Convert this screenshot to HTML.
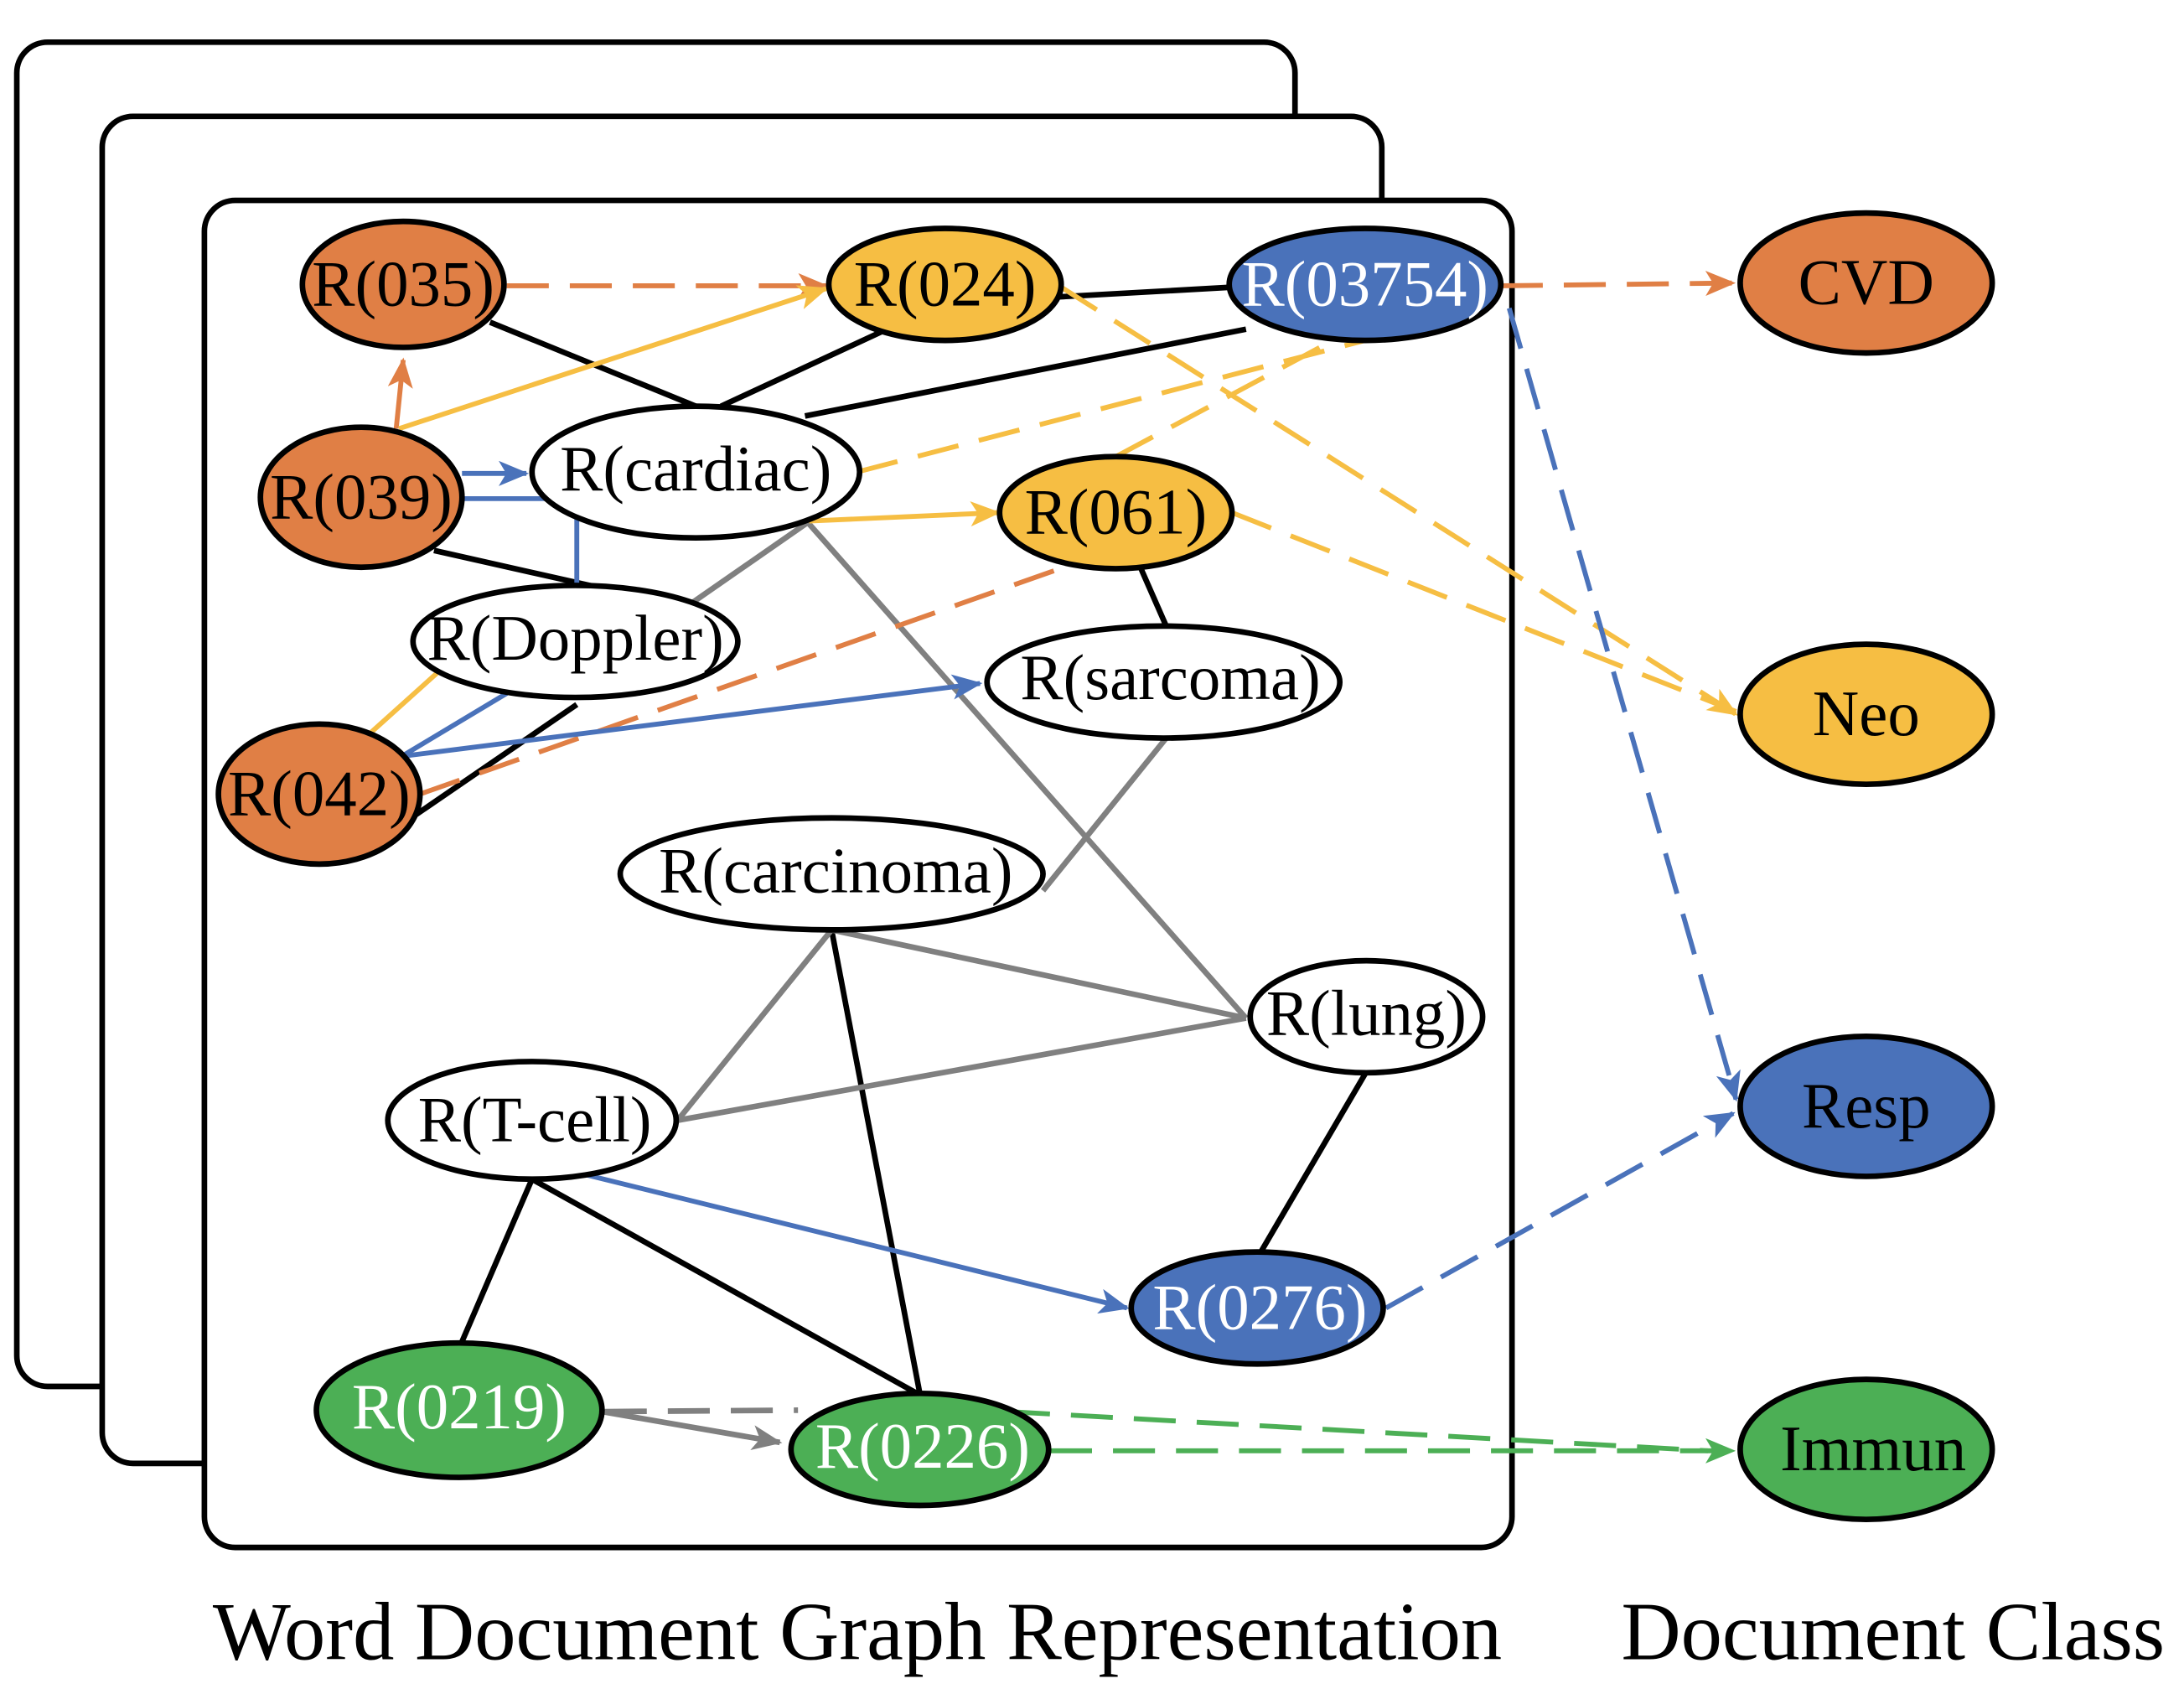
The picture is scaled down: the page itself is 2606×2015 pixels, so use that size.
<!DOCTYPE html>
<html><head><meta charset="utf-8"><style>html,body{margin:0;padding:0;background:#fff}svg{display:block}</style></head>
<body>
<svg width="2606" height="2015" viewBox="0 0 1560 1206" xmlns="http://www.w3.org/2000/svg" font-family="Liberation Serif, serif">
<defs>
<marker id="ao" viewBox="0 0 12 10" refX="11" refY="5" markerWidth="24" markerHeight="18" markerUnits="userSpaceOnUse" orient="auto"><path d="M0,0 L12,5 L0,10 L3,5z" fill="#E07F45"/></marker>
<marker id="ay" viewBox="0 0 12 10" refX="11" refY="5" markerWidth="24" markerHeight="18" markerUnits="userSpaceOnUse" orient="auto"><path d="M0,0 L12,5 L0,10 L3,5z" fill="#F6BE43"/></marker>
<marker id="ab" viewBox="0 0 12 10" refX="11" refY="5" markerWidth="24" markerHeight="18" markerUnits="userSpaceOnUse" orient="auto"><path d="M0,0 L12,5 L0,10 L3,5z" fill="#4A72BA"/></marker>
<marker id="ag" viewBox="0 0 12 10" refX="11" refY="5" markerWidth="24" markerHeight="18" markerUnits="userSpaceOnUse" orient="auto"><path d="M0,0 L12,5 L0,10 L3,5z" fill="#4CAF55"/></marker>
<marker id="agr" viewBox="0 0 12 10" refX="11" refY="5" markerWidth="24" markerHeight="18" markerUnits="userSpaceOnUse" orient="auto"><path d="M0,0 L12,5 L0,10 L3,5z" fill="#808080"/></marker>
</defs>
<g fill="#fff" stroke="#000" stroke-width="4">
<rect x="12" y="30" width="913" height="960" rx="22"/>
<rect x="73" y="83" width="914" height="962" rx="22"/>
<rect x="146" y="143" width="934" height="962" rx="22"/>
</g>
<g stroke="#000" stroke-width="4" fill="none">
<line x1="350" y1="230" x2="497" y2="290"/>
<line x1="515" y1="290" x2="640" y2="232"/>
<line x1="755" y1="212" x2="880" y2="205"/>
<line x1="575" y1="297" x2="890" y2="235"/>
<line x1="310" y1="393" x2="430" y2="420"/>
<line x1="815" y1="406" x2="833" y2="447"/>
<line x1="412" y1="503" x2="285" y2="590"/>
<line x1="975" y1="767" x2="900" y2="895"/>
<line x1="380" y1="842" x2="330" y2="958"/>
<line x1="380" y1="842" x2="655" y2="995"/>
<line x1="594" y1="664" x2="657" y2="995"/>
</g>
<g stroke="#808080" stroke-width="4" fill="none">
<line x1="492" y1="432" x2="577" y2="373"/>
<line x1="577" y1="373" x2="890" y2="727"/>
<line x1="833" y1="527" x2="745" y2="636"/>
<line x1="594" y1="664" x2="890" y2="727"/>
<line x1="594" y1="664" x2="484" y2="800"/>
<line x1="484" y1="800" x2="890" y2="727"/>
<line x1="430" y1="1008" x2="557" y2="1030" marker-end="url(#agr)"/>
<line x1="432" y1="1008" x2="570" y2="1007" stroke-dasharray="30,15"/>
</g>
<g stroke="#E07F45" stroke-width="3.5" fill="none">
<line x1="362" y1="204" x2="590" y2="204" stroke-dasharray="30,15" marker-end="url(#ao)"/>
<line x1="283" y1="306" x2="288" y2="257" marker-end="url(#ao)"/>
<line x1="300" y1="567" x2="760" y2="405" stroke-dasharray="30,15"/>
<line x1="1072" y1="204" x2="1238" y2="202" stroke-dasharray="30,15" marker-end="url(#ao)"/>
</g>
<g stroke="#F6BE43" stroke-width="3.5" fill="none">
<line x1="285" y1="306" x2="590" y2="206" marker-end="url(#ay)"/>
<line x1="578" y1="372" x2="713" y2="366" marker-end="url(#ay)"/>
<line x1="612" y1="337" x2="975" y2="243" stroke-dasharray="30,15"/>
<line x1="797" y1="326" x2="1010" y2="212" stroke-dasharray="30,15"/>
<line x1="758" y1="205" x2="1240" y2="510" stroke-dasharray="30,15" marker-end="url(#ay)"/>
<line x1="880" y1="366" x2="1240" y2="508" stroke-dasharray="30,15"/>
<line x1="265" y1="523" x2="315" y2="478"/>
</g>
<g stroke="#4A72BA" stroke-width="3.5" fill="none">
<line x1="330" y1="338" x2="376" y2="338" marker-end="url(#ab)"/>
<polyline points="330,356 412,356 412,420"/>
<line x1="287" y1="540" x2="700" y2="488" marker-end="url(#ab)"/>
<line x1="287" y1="540" x2="362" y2="495"/>
<line x1="1078" y1="220" x2="1240" y2="785" stroke-dasharray="30,15" marker-end="url(#ab)"/>
<line x1="415" y1="838" x2="805" y2="934" marker-end="url(#ab)"/>
<line x1="990" y1="934" x2="1238" y2="795" stroke-dasharray="30,15" marker-end="url(#ab)"/>
</g>
<g stroke="#4CAF55" stroke-width="3.5" fill="none">
<line x1="750" y1="1036" x2="1238" y2="1036" stroke-dasharray="30,15" marker-end="url(#ag)"/>
<line x1="720" y1="1008" x2="1220" y2="1036" stroke-dasharray="30,15"/>
</g>
<g stroke="#000" stroke-width="4">
<ellipse cx="288" cy="203" rx="72" ry="45" fill="#E07F45"/>
<ellipse cx="675" cy="203" rx="83" ry="40" fill="#F6BE43"/>
<ellipse cx="975" cy="203" rx="97" ry="40" fill="#4A72BA"/>
<ellipse cx="258" cy="355" rx="72" ry="50" fill="#E07F45"/>
<ellipse cx="497" cy="337" rx="117" ry="47" fill="#fff"/>
<ellipse cx="797" cy="366" rx="83" ry="40" fill="#F6BE43"/>
<ellipse cx="411" cy="458" rx="116" ry="40" fill="#fff"/>
<ellipse cx="831" cy="487" rx="126" ry="40" fill="#fff"/>
<ellipse cx="228" cy="567" rx="72" ry="50" fill="#E07F45"/>
<ellipse cx="594" cy="624" rx="151" ry="40" fill="#fff"/>
<ellipse cx="976" cy="726" rx="83" ry="40" fill="#fff"/>
<ellipse cx="380" cy="800" rx="103" ry="42" fill="#fff"/>
<ellipse cx="898" cy="934" rx="90" ry="40" fill="#4A72BA"/>
<ellipse cx="328" cy="1007" rx="102" ry="48" fill="#4CAF55"/>
<ellipse cx="657" cy="1035" rx="92" ry="40" fill="#4CAF55"/>
<ellipse cx="1333" cy="202" rx="90" ry="50" fill="#E07F45"/>
<ellipse cx="1333" cy="510" rx="90" ry="50" fill="#F6BE43"/>
<ellipse cx="1333" cy="790" rx="90" ry="50" fill="#4A72BA"/>
<ellipse cx="1333" cy="1035" rx="90" ry="50" fill="#4CAF55"/>
</g>
<g font-size="46" text-anchor="middle" fill="#000">
<text x="288" y="218">R(035)</text>
<text x="675" y="218">R(024)</text>
<text x="975" y="218" fill="#fff">R(03754)</text>
<text x="258" y="370">R(039)</text>
<text x="497" y="350">R(cardiac)</text>
<text x="797" y="381">R(061)</text>
<text x="411" y="471">R(Doppler)</text>
<text x="836" y="499">R(sarcoma)</text>
<text x="228" y="582">R(042)</text>
<text x="597" y="637">R(carcinoma)</text>
<text x="976" y="739">R(lung)</text>
<text x="382" y="815">R(T-cell)</text>
<text x="900" y="949" fill="#fff">R(0276)</text>
<text x="328" y="1020" fill="#fff">R(0219)</text>
<text x="659" y="1048" fill="#fff">R(0226)</text>
<text x="1333" y="217">CVD</text>
<text x="1333" y="525">Neo</text>
<text x="1333" y="805">Resp</text>
<text x="1338" y="1050">Immun</text>
</g>
<g font-size="59" fill="#000">
<text x="152" y="1185">Word Document Graph Representation</text>
<text x="1158" y="1185">Document Class</text>
</g>
</svg>
</body></html>
